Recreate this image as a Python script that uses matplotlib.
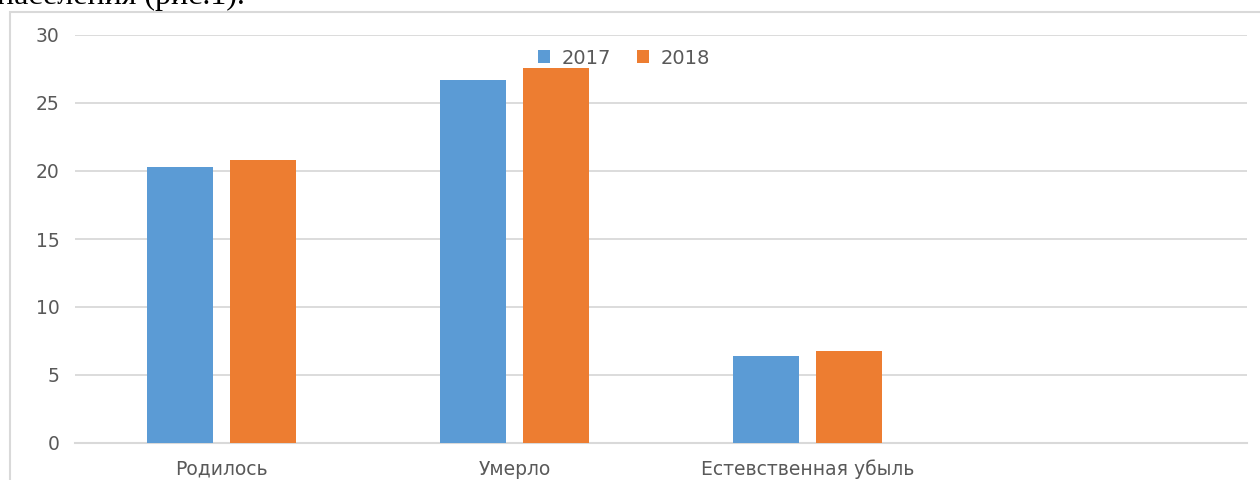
import matplotlib.pyplot as plt
from matplotlib.patches import Rectangle

categories = ["Родилось", "Умерло", "Естевственная убыль", ""]
years = ["2017", "2018"]
values_2017 = [20.3, 26.7, 6.4]
values_2018 = [20.8, 27.6, 6.8]
yticks = [0, 5, 10, 15, 20, 25, 30]

BLUE = "#5B9BD5"
ORANGE = "#ED7D31"
GRID = "#D9D9D9"
TEXT = "#595959"

plt.rcParams['font.family'] = ['DejaVu Sans']

fig = plt.figure(figsize=(12.6, 4.8), dpi=100)
ax = fig.add_axes([75 / 1260, 1 - 443 / 480, (1247 - 75) / 1260, (443 - 35) / 480])

# chart frame, cut off at right and bottom like the screenshot
fig.patches.append(Rectangle((10 / 1260, -0.1), 1.2, 1 - 12 / 480 + 0.1,
                             transform=fig.transFigure, fill=False,
                             edgecolor=GRID, lw=1.5))
fig.text(-0.002, 1 - 4 / 480, "населения (рис.1).", family='Liberation Serif',
         fontsize=23, color='black', va='baseline', ha='left')

w = 0.225
off = 0.143
x = list(range(len(values_2017)))
ax.bar([i - off for i in x], values_2017, width=w, color=BLUE, label=years[0], zorder=3)
ax.bar([i + off for i in x], values_2018, width=w, color=ORANGE, label=years[1], zorder=3)

ax.set_xlim(-0.5, len(categories) - 0.5)
ax.set_ylim(0, 30)
ax.set_yticks(yticks)
ax.set_xticks(range(len(categories)))
ax.set_xticklabels(categories)
ax.tick_params(axis='both', length=0, labelsize=13.5, colors=TEXT)
ax.tick_params(axis='x', pad=12)
ax.tick_params(axis='y', pad=11)
ax.yaxis.grid(True, color=GRID, lw=1.3, zorder=0)
for s in ['top', 'right', 'left']:
    ax.spines[s].set_visible(False)
ax.spines['bottom'].set_color(GRID)
ax.spines['bottom'].set_linewidth(1.5)

leg = ax.legend(loc='center', bbox_to_anchor=(624 / 1260, 1 - 58 / 480),
                bbox_transform=fig.transFigure, ncol=2, frameon=False,
                fontsize=14, handlelength=0.65, handleheight=0.65,
                handletextpad=0.6, columnspacing=1.3)
for t in leg.get_texts():
    t.set_color(TEXT)

fig.savefig("out.png", dpi=100)
